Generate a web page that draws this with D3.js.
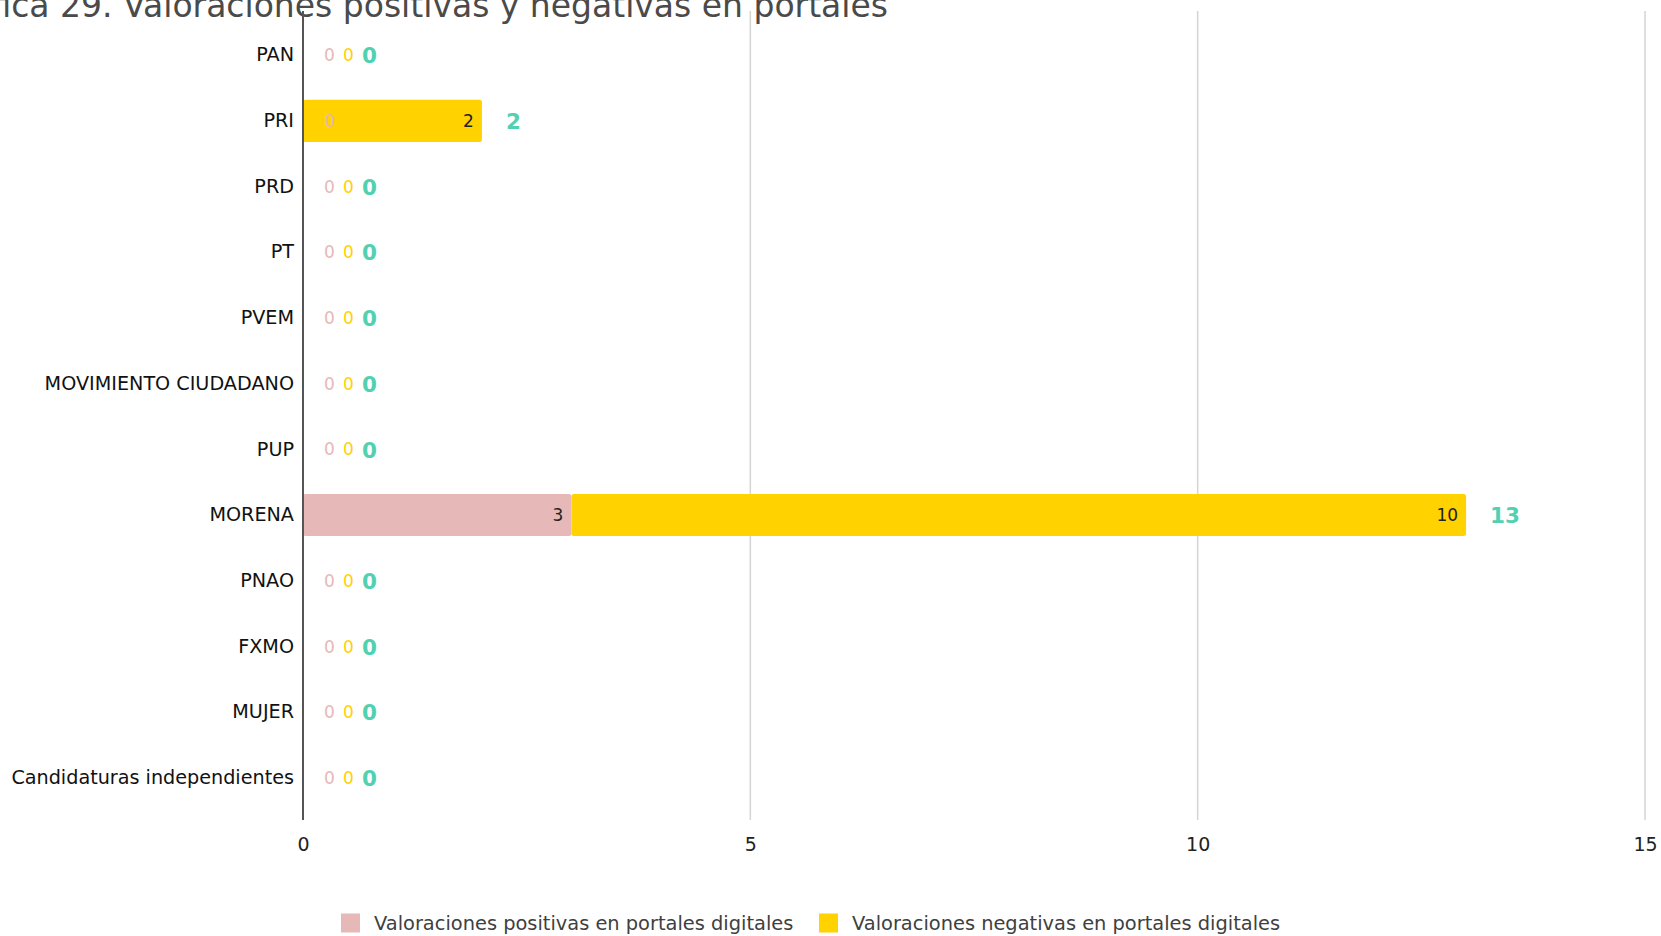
<!DOCTYPE html>
<html>
<head>
<meta charset="utf-8">
<script src="https://cdn.jsdelivr.net/npm/d3@7"></script>
<style>
  html, body { margin: 0; padding: 0; background: #ffffff; overflow: hidden; }
  svg { display: block; font-family: "DejaVu Sans", Verdana, sans-serif; }
</style>
</head>
<body>
<svg id="chart" width="1661" height="936"></svg>
<script>
const titleText = "Gráfica 29. Valoraciones positivas y negativas en portales";
const categories = ["PAN", "PRI", "PRD", "PT", "PVEM", "MOVIMIENTO CIUDADANO", "PUP", "MORENA", "PNAO", "FXMO", "MUJER", "Candidaturas independientes"];
const positivas = [0, 0, 0, 0, 0, 0, 0, 3, 0, 0, 0, 0];
const negativas = [0, 2, 0, 0, 0, 0, 0, 10, 0, 0, 0, 0];
const seriesNames = ["Valoraciones positivas en portales digitales", "Valoraciones negativas en portales digitales"];
const xTicks = [0, 5, 10, 15];

const colors = ["#e6b8b7", "#ffd200"];
const totalColor = "#52d1b2";

const svg = d3.select("#chart");
const x = d3.scaleLinear().domain([0, 15]).range([303, 1645]);
const y = d3.scaleBand().domain(categories).range([12, 821]).paddingInner(0.36).paddingOuter(0.337);

// title (clipped at the top-left like the reference)
svg.append("text")
  .attr("x", 888).attr("y", 17)
  .attr("text-anchor", "end")
  .attr("font-size", 33)
  .attr("fill", "#4a4a4a")
  .text(titleText);

// grid lines
svg.append("g").selectAll("line")
  .data(xTicks.filter(d => d > 0))
  .join("line")
  .attr("x1", d => x(d)).attr("x2", d => x(d))
  .attr("y1", 11).attr("y2", 820)
  .attr("stroke", "#d4d4d4").attr("stroke-width", 1.5);

// x tick labels
const xAxis = d3.axisBottom(x).tickValues(xTicks).tickSize(0).tickPadding(18).tickFormat(d3.format("d"));
const gx = svg.append("g").attr("transform", "translate(0,820)").call(xAxis);
gx.select(".domain").remove();
gx.selectAll("text").attr("font-size", 19).attr("fill", "#222").attr("font-family", "DejaVu Sans, Verdana, sans-serif");

// stacked data
const rows = categories.map((c, i) => ({ cat: c, vals: [positivas[i], negativas[i]], total: positivas[i] + negativas[i] }));
const stack = d3.stack().keys([0, 1]).value((d, k) => d.vals[k]);
const stacked = stack(rows);

// bars
stacked.forEach((layer, k) => {
  svg.append("g").selectAll("rect")
    .data(layer.filter(d => d[1] - d[0] > 0))
    .join("rect")
    .attr("x", d => x(d[0]))
    .attr("y", d => y(d.data.cat))
    .attr("width", d => x(d[1]) - x(d[0]))
    .attr("height", y.bandwidth())
    .attr("rx", 2.5)
    .attr("fill", colors[k]);
});

// y axis line
svg.append("line")
  .attr("x1", x(0)).attr("x2", x(0))
  .attr("y1", 11).attr("y2", 820)
  .attr("stroke", "#555").attr("stroke-width", 2);

// category labels
const yAxis = d3.axisLeft(y).tickSize(0).tickPadding(9);
const gy = svg.append("g").attr("transform", `translate(${x(0)},0)`).call(yAxis);
gy.select(".domain").remove();
gy.selectAll("text").attr("font-size", 19.2).attr("fill", "#111").attr("font-family", "DejaVu Sans, Verdana, sans-serif");

// segment labels
const zeroOffsets = [21, 40];
stacked.forEach((layer, k) => {
  svg.append("g").selectAll("text")
    .data(layer)
    .join("text")
    .attr("x", d => (d[1] - d[0] > 0) ? x(d[1]) - 8 : x(0) + zeroOffsets[k])
    .attr("y", d => y(d.data.cat) + y.bandwidth() / 2)
    .attr("dy", "0.36em")
    .attr("text-anchor", d => (d[1] - d[0] > 0) ? "end" : "start")
    .attr("font-size", 17)
    .attr("fill", d => (d[1] - d[0] > 0) ? "#222" : colors[k])
    .text(d => d[1] - d[0]);
});

// totals
svg.append("g").selectAll("text")
  .data(rows)
  .join("text")
  .attr("x", d => d.total > 0 ? x(d.total) + 24 : x(0) + 59)
  .attr("y", d => y(d.cat) + y.bandwidth() / 2)
  .attr("dy", "0.38em")
  .attr("font-size", 21.5)
  .attr("font-weight", "bold")
  .attr("fill", totalColor)
  .text(d => d.total);

// legend
const legendX = [341, 819];
const legend = svg.append("g").selectAll("g")
  .data(seriesNames)
  .join("g")
  .attr("transform", (d, i) => `translate(${legendX[i]},923)`);
legend.append("rect").attr("x", 0).attr("y", -9.5).attr("width", 19).attr("height", 19).attr("fill", (d, i) => colors[i]);
legend.append("text").attr("x", 33).attr("dy", "0.35em").attr("font-size", 19.4).attr("fill", "#404040").text(d => d);
</script>
</body>
</html>
